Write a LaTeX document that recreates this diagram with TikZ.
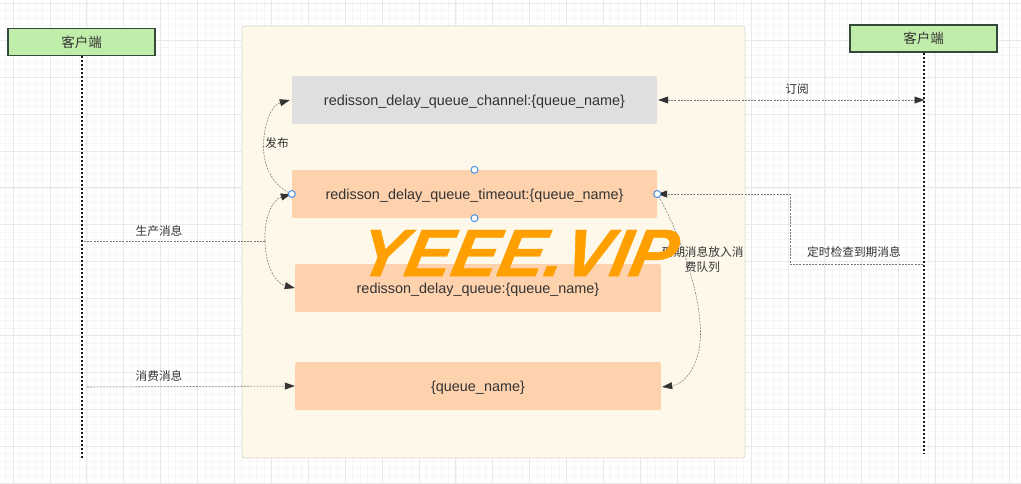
\documentclass[tikz,border=0pt]{standalone}
\usepackage{fontspec}
\setmainfont{Liberation Sans}
\newfontfamily\cjk{Noto Sans CJK SC}
\newfontfamily\wmf[FakeBold=0.6]{Liberation Sans}
\usetikzlibrary{arrows.meta}
\definecolor{gridmin}{HTML}{F6F6F6}
\definecolor{gridmaj}{HTML}{E9E9E9}
\definecolor{panelfill}{HTML}{FDF8E9}
\definecolor{paneledge}{HTML}{DEDBD0}
\definecolor{peach}{HTML}{FFD2AE}
\definecolor{greybox}{HTML}{DFDFDF}
\definecolor{clientfill}{HTML}{C0EDA9}
\definecolor{clientedge}{HTML}{33493A}
\definecolor{inkc}{HTML}{333333}
\definecolor{linkc}{HTML}{787878}
\definecolor{handlec}{HTML}{4A90E2}
\definecolor{wm}{HTML}{FF9F00}
\tikzset{
  x=1pt,y=-1pt,
  qbox/.style={rounded corners=1.5pt,inner sep=0pt,text=inkc,text height=13pt,text depth=3pt,font=\fontsize{14.4}{16}\selectfont},
  client/.style={draw=clientedge,line width=1.3pt,fill=clientfill,inner sep=0pt,text=inkc,font=\cjk\fontsize{13.5}{15}\selectfont},
  life/.style={line width=2pt,black!90,dash pattern=on 2pt off 2pt},
  link/.style={linkc,line width=.55pt,dash pattern=on 2pt off 1.2pt},
  tip/.style={-{Triangle[length=10pt,width=7pt,inkc,fill=inkc]}},
  tips/.style={{Triangle[length=10pt,width=7pt,inkc,fill=inkc]}-{Triangle[length=10pt,width=7pt,inkc,fill=inkc]}},
  lab/.style={text=inkc,inner sep=0pt,font=\cjk\fontsize{11.7}{14.5}\selectfont,align=center},
  handle/.style={circle,draw=handlec,line width=1pt,fill=white,minimum size=7pt,inner sep=0pt},
}
\begin{document}
\begin{tikzpicture}
\useasboundingbox (0,0) rectangle (1021,483);
\fill[white] (0,0) rectangle (1021,483);
% grid
\foreach \i in {0,...,139} \draw[gridmin,line width=.5pt] ({-1.8+7.38*\i},0) -- ({-1.8+7.38*\i},483);
\foreach \i in {0,...,66} \draw[gridmin,line width=.5pt] (0,{3.3+7.38*\i}) -- (1021,{3.3+7.38*\i});
\foreach \i in {0,...,27} \draw[gridmaj,line width=.7pt] ({13+36.9*\i},0) -- ({13+36.9*\i},483);
\foreach \i in {0,...,13} \draw[gridmaj,line width=.7pt] (0,{3.3+36.9*\i}) -- (1021,{3.3+36.9*\i});
% panel
\node[draw=paneledge,line width=.8pt,fill=panelfill,rounded corners=2.5pt,minimum width=503pt,minimum height=432pt,inner sep=0pt] (panel) at (493.5,242) {};
% boxes
\node[qbox,fill=greybox,minimum width=365pt,minimum height=48pt] (channel) at (474.5,100) {redisson\_delay\_queue\_channel:\{queue\_name\}};
\node[qbox,fill=peach,minimum width=365pt,minimum height=48pt] (timeout) at (474.5,194) {redisson\_delay\_queue\_timeout:\{queue\_name\}};
\node[qbox,fill=peach,minimum width=366pt,minimum height=48pt] (delayq) at (478,288) {redisson\_delay\_queue:\{queue\_name\}};
\node[qbox,fill=peach,minimum width=366pt,minimum height=48pt] (nameq) at (478,386) {\{queue\_name\}};
% clients
\node[client,minimum width=147pt,minimum height=27pt] (cl) at (81.5,42) {客户端};
\node[client,minimum width=147pt,minimum height=27pt] (cr) at (923.5,38.5) {客户端};
\coordinate (clend) at (81.5,458);
\coordinate (crend) at (923.5,453);
\draw[life] (cl.south) -- (clend);
\draw[life] (cr.south) -- (crend);
% anchors
\coordinate (sub) at (924.5,100);
\coordinate (prod) at (84,241);
\coordinate (prodj) at (265,241);
\coordinate (cons) at (87,387);
\coordinate (chk) at (923,264);
\coordinate (chkj) at (790,264);
\coordinate (chkk) at (790,194);
% connectors
\draw[link,tips] ([xshift=1pt]channel.east) -- (sub);
\draw[link,tip] (timeout.west) .. controls (272,186) and (263,165) .. (263.5,145) .. controls (264,122) and (272,105) .. ([xshift=-2pt]channel.west);
\draw[link] (prod) -- (prodj);
\draw[link,tip] (prodj) .. controls (264,218) and (272,200) .. ([xshift=-1pt]timeout.west);
\draw[link,tip] (prodj) .. controls (265,262) and (274,283) .. ([xshift=0pt]delayq.west);
\draw[link,tip] (cons) -- (nameq.west);
\draw[link,tip] (chk) -- (chkj) -- (chkk) -- (timeout.east);
\draw[link,tip] (timeout.east) .. controls (676,225) and (701,290) .. (700.5,335) .. controls (700,365) and (685,384) .. ([xshift=1pt,yshift=-1pt]nameq.east);
% labels
\node[lab,fill=white] (l1) at (159,231) {生产消息};
\node[lab,fill=white] (l2) at (159,376) {消费消息};
\node[lab] (l3) at (277,143) {发布};
\node[lab] (l4) at (797,89) {订阅};
\node[lab] (l5) at (854,252) {定时检查到期消息};
\node[lab] (l6) at (702.5,259.5) {到期消息放入消\\费队列};
% handles
\node[handle] (h1) at (timeout.west) {};
\node[handle] (h2) at (timeout.east) {};
\node[handle] (h3) at (timeout.north) {};
\node[handle] (h4) at (timeout.south) {};
% watermark
\node[inner sep=0pt,text=wm,xslant=.2,transform shape,xscale=1.04,font=\wmf\bfseries\itshape\fontsize{67}{67}\selectfont] (wmark) at (519,253) {YEEE.VIP};
\end{tikzpicture}
\end{document}
